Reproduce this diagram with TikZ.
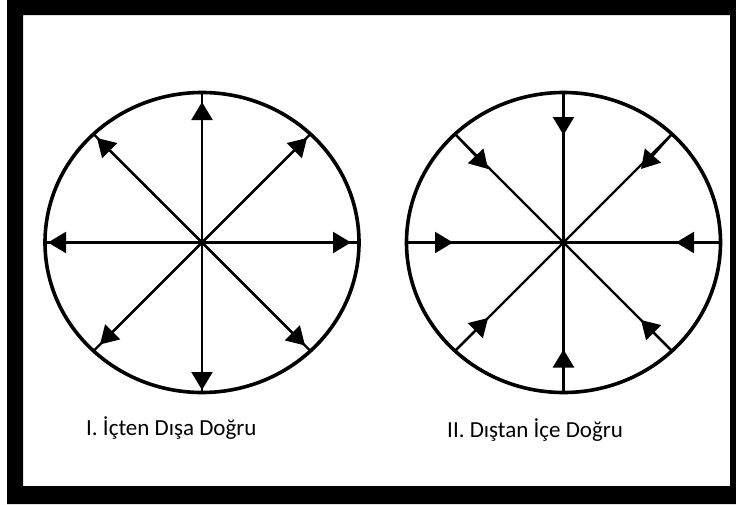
\documentclass[tikz,border=0pt]{standalone}
\usepackage{fontspec}
\setmainfont{Carlito}
\usetikzlibrary{arrows.meta}
\begin{document}
\begin{tikzpicture}[x=1pt,y=-1pt,
  ring/.style={line width=3.6pt},
  ray/.style={line width=2.2pt},
  arr/.style={line width=2.2pt,-{Triangle[length=18pt,width=21pt]}},
  lbl/.style={anchor=base west,inner sep=0pt,font=\fontsize{23}{27}\selectfont}]
\useasboundingbox (0,0) rectangle (736,504);
\fill[white] (0,0) rectangle (736,504);
\fill[black,even odd rule] (7,0) rectangle (736,504) (23,15) rectangle (730,486);
% ---------- left circle: outward ----------
\coordinate (C1) at (202,242.5);
\coordinate (aT) at (202,92.5);
\coordinate (aB) at (202,392.5);
\coordinate (aL) at (45,242.5);
\coordinate (aR) at (359,242.5);
\coordinate (aUL) at (93.6,134.1);
\coordinate (aUR) at (310.4,134.1);
\coordinate (aLL) at (93.6,350.9);
\coordinate (aLR) at (310.4,350.9);
\foreach \p in {aT,aB,aL,aR,aUL,aUR,aLL,aLR} \draw[ray] (C1) -- (\p);
\draw[arr] (C1) -- (202,102);
\draw[arr] (C1) -- (202,390);
\draw[arr] (C1) -- (48,242.5);
\draw[arr] (C1) -- (351,242.5);
\draw[arr] (C1) -- (97,138);
\draw[arr] (C1) -- (307,138);
\draw[arr] (C1) -- (100,344.5);
\draw[arr] (C1) -- (305,345.5);
\draw[ring] (C1) ellipse [x radius=157, y radius=150];
% ---------- right circle: inward ----------
\coordinate (C2) at (563.5,242.5);
\coordinate (bT) at (563.5,92.5);
\coordinate (bB) at (563.5,392.5);
\coordinate (bL) at (406.5,242.5);
\coordinate (bR) at (720.5,242.5);
\coordinate (bUL) at (455.1,134.1);
\coordinate (bUR) at (671.9,134.1);
\coordinate (bLL) at (455.1,350.9);
\coordinate (bLR) at (671.9,350.9);
\foreach \p in {bT,bB,bL,bR,bUL,bUR,bLL,bLR} \draw[ray] (C2) -- (\p);
\draw[arr] (bT) -- (563.5,135);
\draw[arr] (bB) -- (563.5,349.5);
\draw[arr] (bL) -- (453,242.5);
\draw[arr] (bR) -- (676,242.5);
\draw[arr] (bUL) -- (488,169);
\draw[arr] (bUR) -- (641,169);
\draw[arr] (bLL) -- (488,318);
\draw[arr] (bLR) -- (641,320);
\draw[ring] (C2) ellipse [x radius=157, y radius=150];
% ---------- labels ----------
\node[lbl] (t1) at (86,435) {I. İçten Dışa Doğru};
\node[lbl] (t2) at (447,437) {II. Dıştan İçe Doğru};
\end{tikzpicture}
\end{document}
